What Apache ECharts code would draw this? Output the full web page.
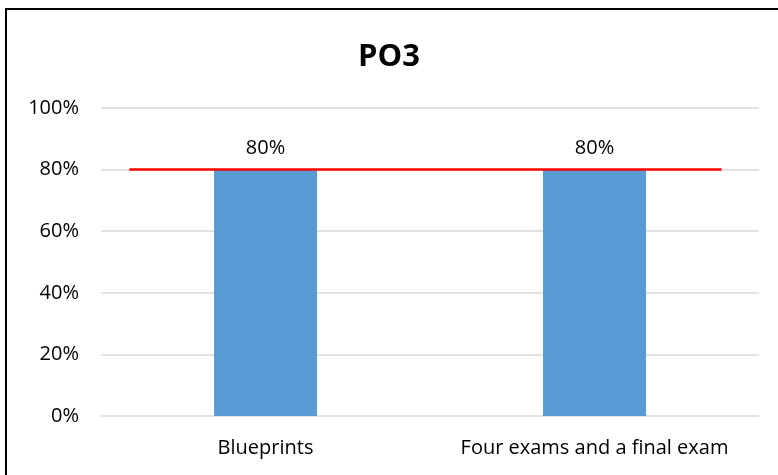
<!DOCTYPE html>
<html>
<head>
<meta charset="utf-8">
<script src="https://cdn.jsdelivr.net/npm/echarts@6/dist/echarts.min.js"></script>
<style>
  html, body { margin: 0; padding: 0; background: #fff; }
  #main { width: 778px; height: 475px; }
</style>
</head>
<body>
<div id="main"></div>
<script>
  // data
  var categories = ['Blueprints', 'Four exams and a final exam'];
  var values = [80, 80];
  var yTicks = [0, 20, 40, 60, 80, 100];
  // target line: 80%, spanning a fraction of the plot width
  var targetValue = 80;
  var targetSpan = [0.043, 0.943];

  var myChart = echarts.init(document.getElementById('main'));
  var font = '"Open Sans", "Noto Sans", sans-serif';

  var option = {
    animation: false,
    textStyle: { fontFamily: font },
    title: {
      text: 'PO3',
      left: 'center',
      top: 37,
      textStyle: { fontSize: 31, fontWeight: 'bold', color: '#000', fontFamily: font }
    },
    graphic: [{
      type: 'rect',
      shape: { x: 6, y: 9, width: 800, height: 500 },
      style: { fill: 'none', stroke: '#000', lineWidth: 2 }
    }],
    grid: { left: 101, right: 19, top: 108, bottom: 59 },
    xAxis: [{
      type: 'category',
      data: categories,
      axisLine: { show: false },
      axisTick: { show: false },
      axisLabel: { fontSize: 20, color: '#000', margin: 22, interval: 0, hideOverlap: false }
    }, {
      type: 'value',
      min: 0,
      max: 1,
      show: false
    }],
    yAxis: {
      type: 'value',
      min: yTicks[0],
      max: yTicks[yTicks.length - 1],
      interval: 20,
      axisLine: { show: false },
      axisTick: { show: false },
      axisLabel: { fontSize: 20, color: '#000', margin: 22, formatter: '{value}%' },
      splitLine: { lineStyle: { color: '#d9d9d9', width: 1.5 } }
    },
    series: [{
      type: 'bar',
      data: values,
      barWidth: '31.3%',
      itemStyle: { color: '#5b9bd5' },
      label: {
        show: true,
        position: 'top',
        distance: 11,
        formatter: '{c}%',
        fontSize: 20,
        color: '#000'
      }
    }, {
      type: 'line',
      xAxisIndex: 1,
      data: [[targetSpan[0], targetValue], [targetSpan[1], targetValue]],
      symbol: 'none',
      lineStyle: { color: '#ff0000', width: 2.5 },
      z: 5
    }]
  };

  myChart.setOption(option);
</script>
</body>
</html>
